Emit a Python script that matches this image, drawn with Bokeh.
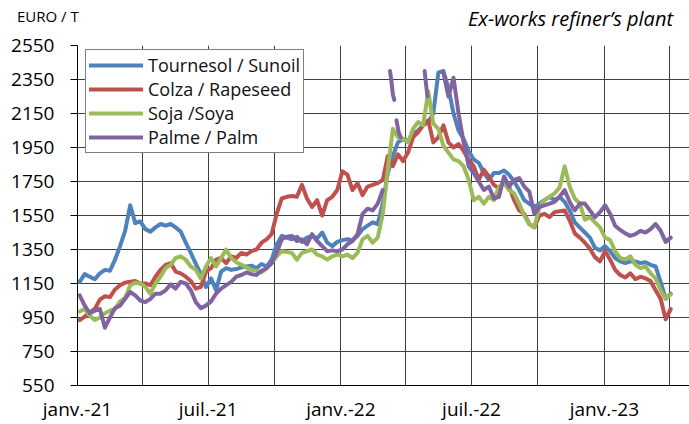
import numpy as np
import pandas as pd
from bokeh.plotting import figure
from bokeh.layouts import column
from bokeh.models import FixedTicker, Range1d, Div
from bokeh.embed import file_html
from bokeh.resources import INLINE

nan = np.nan

# weekly sample dates
dates = pd.date_range("2021-01-04", periods=118, freq="7D")

sunoil = [1160, 1205, 1190, 1175, 1210, 1230, 1225, 1290, 1370, 1460,
          1610, 1505, 1515, 1470, 1455, 1480, 1500, 1490, 1500, 1480,
          1455, 1390, 1330, 1265, 1205, 1130, 1180, 1110, 1220, 1240,
          1230, 1235, 1245, 1250, 1255, 1240, 1265, 1250, 1290, 1380,
          1430, 1420, 1410, 1425, 1395, 1420, 1430, 1415, 1450, 1390,
          1370, 1395, 1405, 1410, 1405, 1430, 1470, 1490, 1510, 1500,
          1620, 1800, 1900, 1980, 2000, 1990, 2030, 2050, 2080, 2100,
          2150, 2390, 2400, 2300, 2150, 2050, 2000, 1930, 1880, 1860,
          1800, 1760, 1800, 1800, 1815, 1790, 1750, 1700, 1640, 1620,
          1600, 1620, 1640, 1660, 1640, 1660, 1630, 1580, 1510, 1480,
          1450, 1420, 1360, 1345, 1370, 1340, 1300, 1280, 1270, 1280,
          1280, 1270, 1275, 1260, 1250, 1160, 1060, 1090]

rapeseed = [935, 955, 980, 1000, 1055, 1075, 1070, 1115, 1140, 1155,
            1160, 1165, 1150, 1150, 1140, 1190, 1230, 1260, 1270, 1220,
            1210, 1190, 1165, 1120, 1130, 1220, 1240, 1290, 1300, 1270,
            1310, 1300, 1330, 1320, 1340, 1350, 1390, 1410, 1440, 1560,
            1650, 1660, 1665, 1660, 1730, 1650, 1600, 1640, 1550, 1640,
            1660, 1700, 1810, 1790, 1700, 1740, 1670, 1720, 1730, 1740,
            1760, 1900, 1840, 1910, 1870, 1920, 2010, 2040, 2080, 2110,
            1980, 2010, 2080, 1980, 1950, 1970, 1930, 1880, 1840, 1760,
            1820, 1780, 1730, 1710, 1750, 1720, 1640, 1580, 1560, 1500,
            1480, 1550, 1560, 1540, 1570, 1575, 1580, 1520, 1445, 1420,
            1390, 1355, 1305, 1280, 1340, 1290, 1230, 1200, 1185, 1210,
            1175, 1190, 1180, 1165, 1110, 1060, 940, 1000]

soya = [985, 1000, 960, 935, 950, 975, 990, 1000, 1045, 1065,
        1140, 1155, 1150, 1130, 1090, 1150, 1190, 1240, 1260, 1300,
        1310, 1290, 1250, 1230, 1180, 1250, 1300, 1250, 1300, 1350,
        1300, 1275, 1260, 1245, 1230, 1225, 1215, 1240, 1270, 1310,
        1340, 1335, 1330, 1290, 1330, 1340, 1350, 1320, 1310, 1290,
        1310, 1320, 1310, 1320, 1300, 1330, 1410, 1430, 1390, 1420,
        1560, 1820, 2060, 2010, 2000, 1980, 2060, 2100, 2080, 2280,
        2090, 2060, 1960, 1920, 1880, 1870, 1840, 1760, 1640, 1660,
        1620, 1660, 1640, 1720, 1740, 1700, 1680, 1620, 1550, 1500,
        1480, 1600, 1640, 1660, 1680, 1715, 1840, 1720, 1650, 1620,
        1525, 1540, 1510, 1480, 1420, 1405, 1340, 1300, 1290, 1310,
        1260, 1240, 1250, 1210, 1180, 1110, 1060, 1085]

palm = [1080, 1020, 975, 990, 1000, 890, 950, 1005, 1020, 1060,
        1100, 1080, 1050, 1040, 1060, 1090, 1090, 1110, 1145, 1120,
        1160, 1150, 1110, 1040, 1005, 1020, 1045, 1090, 1120, 1140,
        1160, 1190, 1200, 1215, 1205, 1200, 1225, 1240, 1270, 1330,
        1410, 1425, 1430, 1400, 1410, 1380, 1440, 1400, 1370, 1340,
        1345, 1340, 1350, 1380, 1400, 1440, 1560, 1590, 1580, 1620,
        1700, nan, nan, nan, nan, nan, nan, nan, nan, nan,
        nan, nan, 2390, 2250, 2360, 2150, 1980, 1840, 1800, 1750,
        1700, 1720, 1650, 1660, 1780, 1720, 1760, 1770, 1720, 1690,
        1560, 1600, 1610, 1620, 1630, 1660, 1700, 1630, 1580, 1620,
        1620, 1580, 1540, 1570, 1610, 1560, 1490, 1465, 1445, 1430,
        1440, 1460, 1450, 1470, 1500, 1460, 1395, 1420]

# isolated palm quotes (broken segments) in spring 2022
palm_spike_dates = ["2022-03-10", "2022-03-12", "2022-03-14", "2022-03-16", "2022-03-17",
                    "2022-03-19", "2022-03-22", "2022-03-25", "2022-03-26",
                    "2022-04-27", "2022-04-29", "2022-05-01"]
palm_spike_values = [2400, 2340, 2260, 2230, nan,
                     2110, 2040, 2010, nan,
                     2400, 2320, 2250]

series_names = ["Tournesol / Sunoil", "Colza / Rapeseed", "Soja /Soya", "Palme / Palm"]
colors = ["#4F81BD", "#C0504D", "#9BBB59", "#8064A2"]

y_ticks = list(range(550, 2551, 200))
x_tick_dates = pd.date_range("2021-01-01", "2023-04-01", freq="QS")

unit_text = "EURO / T"
subtitle_text = "Ex-works refiner\u2019s plant"

FONT = "Open Sans"
HEAD_H = 33
LW = 4

header = Div(
    text=(
        '<div style="position:relative;width:689px;height:%dpx;">'
        '<span style="position:absolute;left:17px;top:6px;font-family:\'Open Sans\';'
        'font-size:15px;line-height:20px;color:#000;white-space:nowrap;">%s</span>'
        '<span style="position:absolute;right:16px;top:5px;font-family:\'Open Sans\';'
        'font-style:italic;font-size:20px;line-height:27px;color:#000;white-space:nowrap;">%s</span>'
        '</div>' % (HEAD_H, unit_text, subtitle_text)
    ),
    width=689, height=HEAD_H, margin=0,
)

p = figure(width=689, height=424 - HEAD_H, x_axis_type="datetime",
           x_range=Range1d(pd.Timestamp("2021-01-01"), pd.Timestamp("2023-04-29")),
           y_range=Range1d(550, 2550),
           output_backend="svg", toolbar_location=None, margin=0,
           min_border_left=77, min_border_right=0, min_border_top=45 - HEAD_H,
           min_border_bottom=39)
p.outline_line_color = None
p.background_fill_color = "white"
p.border_fill_color = "white"

for vals, name, col in zip([sunoil, rapeseed, soya, palm], series_names, colors):
    p.line(dates, vals, line_color=col, line_width=LW, line_join="round",
           line_cap="round", legend_label=name)
p.line(pd.to_datetime(palm_spike_dates), palm_spike_values, line_color=colors[3],
       line_width=LW, line_join="round", line_cap="round")

# axes
tick_ms = [d.value / 1e6 for d in x_tick_dates]
p.xaxis.ticker = FixedTicker(ticks=tick_ms)
overrides = {}
for d, ms in zip(x_tick_dates, tick_ms):
    if d.month == 1:
        overrides[ms] = "janv.-%02d" % (d.year % 100)
    elif d.month == 7:
        overrides[ms] = "juil.-%02d" % (d.year % 100)
    else:
        overrides[ms] = ""
p.xaxis.major_label_overrides = overrides
p.yaxis.ticker = FixedTicker(ticks=y_ticks)

for ax in (p.xaxis[0], p.yaxis[0]):
    ax.axis_line_color = "black"
    ax.axis_line_width = 1
    ax.major_label_text_font = FONT
    ax.major_label_text_font_size = "19px"
    ax.major_label_text_color = "black"
    ax.minor_tick_line_color = None
    ax.major_tick_in = 0
p.xaxis.major_tick_out = 0
p.xaxis.major_label_standoff = 10
p.yaxis.major_tick_out = 7
p.yaxis.major_tick_line_color = "black"
p.yaxis.major_label_standoff = 16

p.xgrid.grid_line_color = "#404040"
p.ygrid.grid_line_color = "#404040"
p.xgrid.grid_line_width = 1
p.ygrid.grid_line_width = 1

# legend
lg = p.legend[0]
lg.location = (8, 232)
lg.label_text_font = FONT
lg.label_text_font_size = "18px"
lg.label_text_color = "#111111"
lg.glyph_width = 54
lg.glyph_height = 24
lg.label_height = 24
lg.label_standoff = 5
lg.spacing = 0
lg.padding = 3
lg.margin = 0
lg.border_line_color = "black"
lg.border_line_width = 1
lg.background_fill_color = "white"
lg.background_fill_alpha = 1

layout = column(header, p, spacing=0, margin=0)

open("out.html", "w").write(file_html(layout, INLINE))
